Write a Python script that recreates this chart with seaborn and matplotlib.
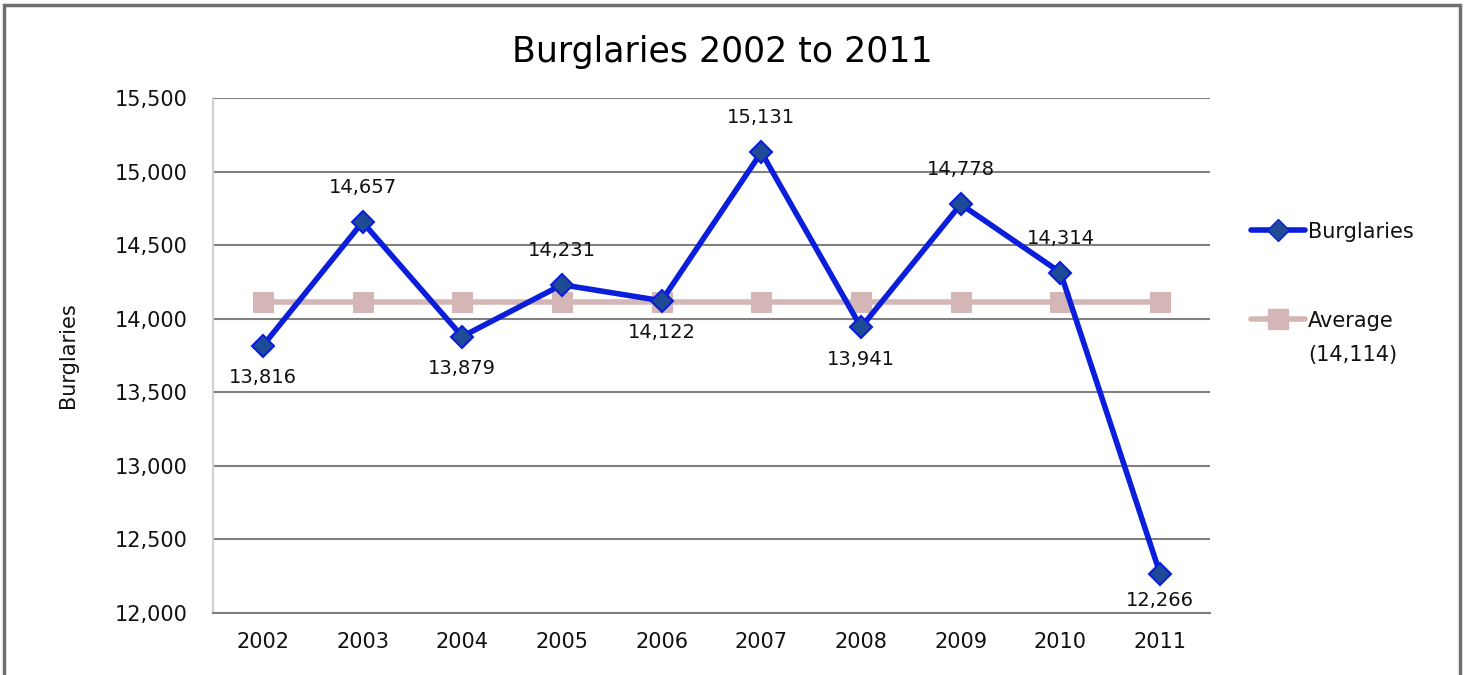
import matplotlib
matplotlib.use("Agg")
import matplotlib.pyplot as plt
import seaborn as sns
import pandas as pd
from matplotlib.patches import Rectangle
from matplotlib.lines import Line2D
from matplotlib.ticker import FuncFormatter, MultipleLocator

years = ["2002", "2003", "2004", "2005", "2006", "2007", "2008", "2009", "2010", "2011"]
burglaries = [13816, 14657, 13879, 14231, 14122, 15131, 13941, 14778, 14314, 12266]
average = 14114
label_above = [False, True, False, True, False, True, False, True, True, False]

sns.set_style("white")
plt.rcParams["font.family"] = ["DejaVu Sans"]

fig = plt.figure(figsize=(14.66, 6.75), dpi=100)
ax = fig.add_axes([213/1466, 1-613/675, (1210-213)/1466, (613-98)/675])

df = pd.DataFrame({"year": years, "x": range(len(years)), "Burglaries": burglaries,
                   "Average": [average]*len(years)})

sns.lineplot(data=df, x="x", y="Average", ax=ax, color="#D4B6B6", lw=4,
             marker="s", markersize=15, markerfacecolor="#D4B6B6",
             markeredgecolor="#D4B6B6", sort=False, zorder=2)
sns.lineplot(data=df, x="x", y="Burglaries", ax=ax, color="#0A1EDB", lw=4,
             marker="D", markersize=11, markerfacecolor="#1F4A96",
             markeredgecolor="#0A1EDB", markeredgewidth=1.5, sort=False, zorder=3)

for i, (v, up) in enumerate(zip(burglaries, label_above)):
    off = 18 if up else (-12 if i == len(burglaries) - 1 else -16)
    ax.annotate(f"{v:,}", (i, v), xytext=(0, off), textcoords="offset points",
                ha="center", va="bottom" if up else "top", fontsize=14, color="#111111")

ax.set_xlim(-0.5, len(years) - 0.5)
ax.set_ylim(12000, 15500)
ax.yaxis.set_major_locator(MultipleLocator(500))
ax.yaxis.set_major_formatter(FuncFormatter(lambda v, p: f"{int(v):,}"))
ax.set_xticks(range(len(years)))
ax.set_xticklabels(years)
ax.tick_params(axis="x", length=0, labelsize=15, pad=14, colors="#111111")
ax.tick_params(axis="y", length=8, width=1.5, color="#D0D0D0", labelsize=15, pad=10, labelcolor="#111111")
ax.grid(axis="y", color="#808080", lw=1.5)
ax.set_axisbelow(True)
for s in ["top", "right"]:
    ax.spines[s].set_visible(False)
ax.spines["left"].set_color("#D0D0D0")
ax.spines["left"].set_linewidth(1.5)
ax.spines["bottom"].set_color("#808080")
ax.spines["bottom"].set_linewidth(1.5)
ax.set_xlabel("")
ax.set_ylabel("Burglaries", fontsize=15, labelpad=27, color="#111111")

fig.text((488+957)/2/1466, 1-52/675, "Burglaries 2002 to 2011", ha="center", va="center",
         fontsize=25, color="#000000")

h1 = Line2D([], [], color="#0A1EDB", lw=4, marker="D", markersize=11,
            markerfacecolor="#1F4A96", markeredgecolor="#0A1EDB")
h2 = Line2D([], [], color="#D4B6B6", lw=4, marker="s", markersize=15,
            markerfacecolor="#D4B6B6", markeredgecolor="#D4B6B6")
fig.legend([h1, h2], ["Burglaries", "Average"], loc="upper left",
           bbox_to_anchor=(1232/1466, 1-203/675), frameon=False, fontsize=15,
           handlelength=2.6, handletextpad=0.15, labelspacing=3.3, labelcolor="#111111")
fig.text(1308/1466, 1-355/675, f"({average:,})", ha="left", va="center", fontsize=15, color="#111111")

fig.patches.append(Rectangle((4/1466, -0.1), (1460-4)/1466, 1.1 - 5/675, transform=fig.transFigure,
                             fill=False, edgecolor="#707070", lw=2.5))

fig.savefig("out.png", dpi=100)
